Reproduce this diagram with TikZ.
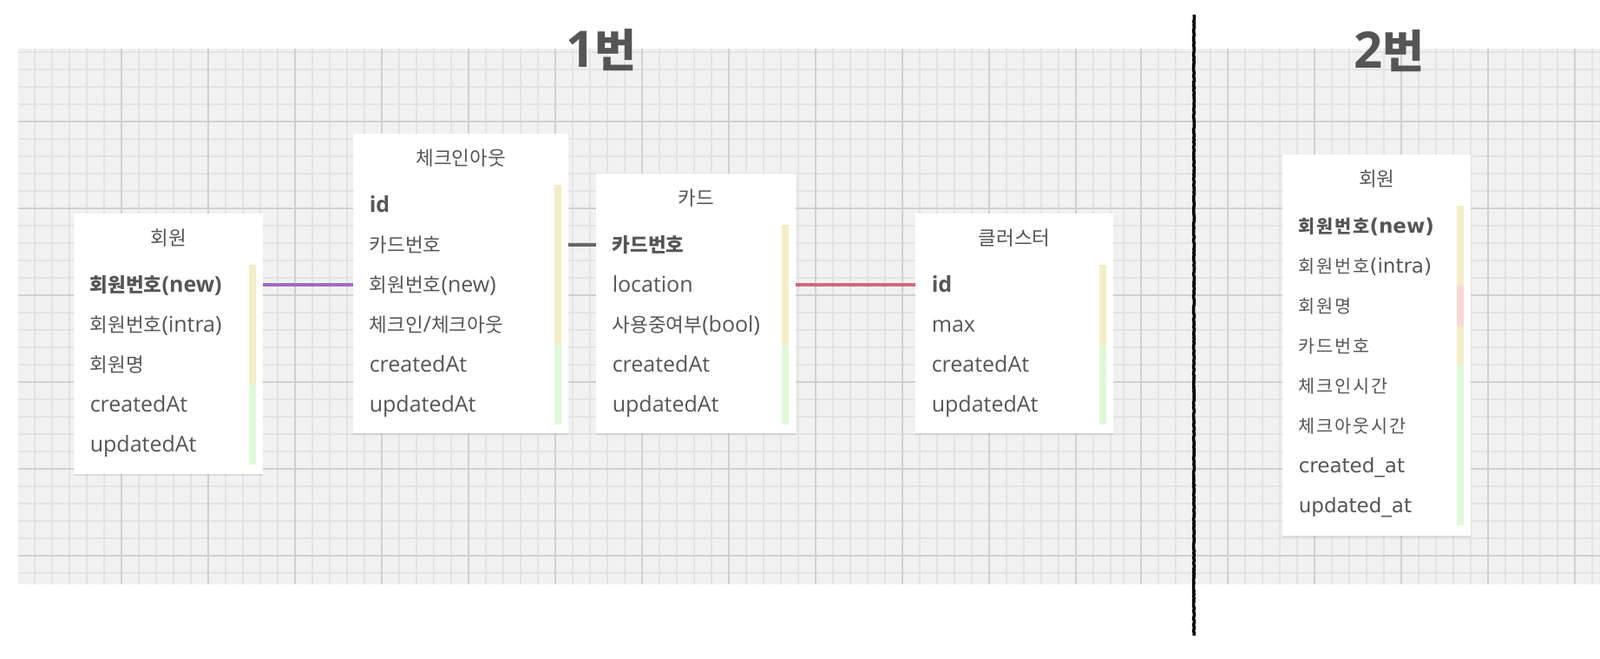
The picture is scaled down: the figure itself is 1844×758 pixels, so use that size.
\documentclass[tikz,border=0pt]{standalone}
\usepackage{fontspec}
\setmainfont{Open Sans}
\newfontfamily\krfont[Scale=0.9]{Noto Sans CJK KR}
\newfontfamily\krwide[Scale=0.9, LetterSpace=9]{Noto Sans CJK KR}
\newfontfamily\wideLatin{DejaVu Sans}
\usetikzlibrary{positioning, calc, shadows, decorations.pathmorphing}

% Hangul syllables are set in Noto Sans CJK KR
\def\krswitch{\krfont}
\XeTeXinterchartokenstate=1
\newXeTeXintercharclass\krclass
\newcount\krcode
\krcode="AC00
\loop
  \XeTeXcharclass\krcode=\krclass
  \advance\krcode by 1
\ifnum\krcode<"D7A4 \repeat
\XeTeXinterchartoks 0 \krclass = {\begingroup\krswitch}
\XeTeXinterchartoks 4095 \krclass = {\begingroup\krswitch}
\XeTeXinterchartoks \krclass 0 = {\endgroup}
\XeTeXinterchartoks \krclass 4095 = {\endgroup}

\definecolor{txtgray}{HTML}{555555}
\definecolor{gridbg}{HTML}{F1F1F1}
\definecolor{gridminor}{HTML}{E3E3E3}
\definecolor{gridmajor}{HTML}{D0D0D0}
\definecolor{keybar}{HTML}{F2EEC6}
\definecolor{timebar}{HTML}{E0F9DA}
\definecolor{namebar}{HTML}{FBD6D6}
\definecolor{linkpurple}{HTML}{A26CBE}
\definecolor{linkgray}{HTML}{666666}
\definecolor{linkpink}{HTML}{D0687F}

\begin{document}
\begin{tikzpicture}[
        x=1pt, y=-1pt,
        entity/.style = {rectangle, fill=white, inner sep=0pt, anchor=north west, drop shadow={shadow xshift=0pt, shadow yshift=-1.5pt, opacity=0.15, fill=black!60}},
        etitle/.style = {anchor=base, inner sep=0pt, text=txtgray, font=\fontsize{25}{30}\selectfont},
        field/.style = {anchor=west, inner sep=0pt, text height=20pt, text depth=4pt, text=txtgray, font=\fontsize{25}{30}\selectfont},
        field2/.style = {field, font=\wideLatin\fontsize{23}{28}\selectfont\def\krswitch{\krwide}},
        heading/.style = {anchor=base, inner sep=0pt, text=txtgray, font=\bfseries\fontsize{58}{70}\selectfont},
        minorline/.style = {draw=gridminor, line width=1.5pt},
        majorline/.style = {draw=gridmajor, line width=2pt},
        link/.style = {line width=3.5pt},
        marker/.style = {line width=3.5pt, draw=black, decorate, decoration={random steps, segment length=2pt, amplitude=0.5pt}}
    ]
    \useasboundingbox (0,0) rectangle (1844,758);

    % Grid paper
    \fill[gridbg] (21,56) rectangle (1844,673);
    \foreach \y in {60,80,...,660} \draw[minorline] (21,\y) -- (1844,\y);
    \foreach \x in {40,60,...,1280} \draw[minorline] (\x,56) -- (\x,673);
    \foreach \x in {1295,1315,...,1835} \draw[minorline] (\x,56) -- (\x,673);
    \foreach \y in {140,240,...,640} \draw[majorline] (21,\y) -- (1844,\y);
    \foreach \x in {140,240,...,1240} \draw[majorline] (\x,56) -- (\x,673);
    \foreach \x in {1315,1415,...,1815} \draw[majorline] (\x,56) -- (\x,673);

    % Headings
    \node[heading] (h1) at (693,77) {1번};
    \node[heading] (h2) at (1601,78) {2번};

    % 1번: 회원
    \node[entity, minimum width=218pt, minimum height=300pt] (mem) at (85,246) {};
    \node[etitle, yshift=-36pt] at (mem.north) {회원};
    \foreach \f/\c [count=\i] in {\textbf{회원번호(new)}/keybar, 회원번호(intra)/keybar, 회원명/keybar, createdAt/timebar, updatedAt/timebar} {
        \node[field, xshift=18.6pt, yshift={-36pt-46pt*\i}] (mem-\i) at (mem.north west) {\f};
        \fill[\c] ([xshift=-16pt, yshift={-13pt-46pt*\i}]mem.north east) rectangle ([xshift=-8pt, yshift={-59pt-46pt*\i}]mem.north east);
    }

    % 1번: 체크인아웃
    \node[entity, minimum width=248pt, minimum height=345pt] (chk) at (407,154) {};
    \node[etitle, yshift=-36pt] at (chk.north) {체크인아웃};
    \foreach \f/\c [count=\i] in {\textbf{id}/keybar, 카드번호/keybar, 회원번호(new)/keybar, {체크인/체크아웃}/keybar, createdAt/timebar, updatedAt/timebar} {
        \node[field, xshift=18.6pt, yshift={-36pt-46pt*\i}] (chk-\i) at (chk.north west) {\f};
        \fill[\c] ([xshift=-16pt, yshift={-13pt-46pt*\i}]chk.north east) rectangle ([xshift=-8pt, yshift={-59pt-46pt*\i}]chk.north east);
    }

    % 1번: 카드
    \node[entity, minimum width=230pt, minimum height=299pt] (card) at (687,200) {};
    \node[etitle, yshift=-36pt] at (card.north) {카드};
    \foreach \f/\c [count=\i] in {\textbf{카드번호}/keybar, location/keybar, 사용중여부(bool)/keybar, createdAt/timebar, updatedAt/timebar} {
        \node[field, xshift=18.6pt, yshift={-36pt-46pt*\i}] (card-\i) at (card.north west) {\f};
        \fill[\c] ([xshift=-16pt, yshift={-13pt-46pt*\i}]card.north east) rectangle ([xshift=-8pt, yshift={-59pt-46pt*\i}]card.north east);
    }

    % 1번: 클러스터
    \node[entity, minimum width=228pt, minimum height=253pt] (clu) at (1055,246) {};
    \node[etitle, yshift=-36pt] at (clu.north) {클러스터};
    \foreach \f/\c [count=\i] in {\textbf{id}/keybar, max/keybar, createdAt/timebar, updatedAt/timebar} {
        \node[field, xshift=18.6pt, yshift={-36pt-46pt*\i}] (clu-\i) at (clu.north west) {\f};
        \fill[\c] ([xshift=-16pt, yshift={-13pt-46pt*\i}]clu.north east) rectangle ([xshift=-8pt, yshift={-59pt-46pt*\i}]clu.north east);
    }

    % Relations
    \draw[link, linkpurple] (mem-1 -| mem.east) -- (chk-3 -| chk.west);
    \draw[link, linkgray] (chk-2 -| chk.east) -- (card-1 -| card.west);
    \draw[link, linkpink] (card-2 -| card.east) -- (clu-1 -| clu.west);

    % Divider
    \draw[marker] (1376,17) -- (1376,732);

    % 2번: 회원
    \node[entity, minimum width=217pt, minimum height=439pt] (mem2) at (1478,178) {};
    \node[etitle, yshift=-36pt] at (mem2.north) {회원};
    \foreach \f/\c [count=\i] in {\textbf{회원번호(new)}/keybar, 회원번호(intra)/keybar, 회원명/namebar, 카드번호/keybar, 체크인시간/timebar, 체크아웃시간/timebar, created\_at/timebar, updated\_at/timebar} {
        \node[field2, xshift=18.6pt, yshift={-36pt-46pt*\i}] (mem2-\i) at (mem2.north west) {\f};
        \fill[\c] ([xshift=-16pt, yshift={-13pt-46pt*\i}]mem2.north east) rectangle ([xshift=-8pt, yshift={-59pt-46pt*\i}]mem2.north east);
    }
\end{tikzpicture}
\end{document}
